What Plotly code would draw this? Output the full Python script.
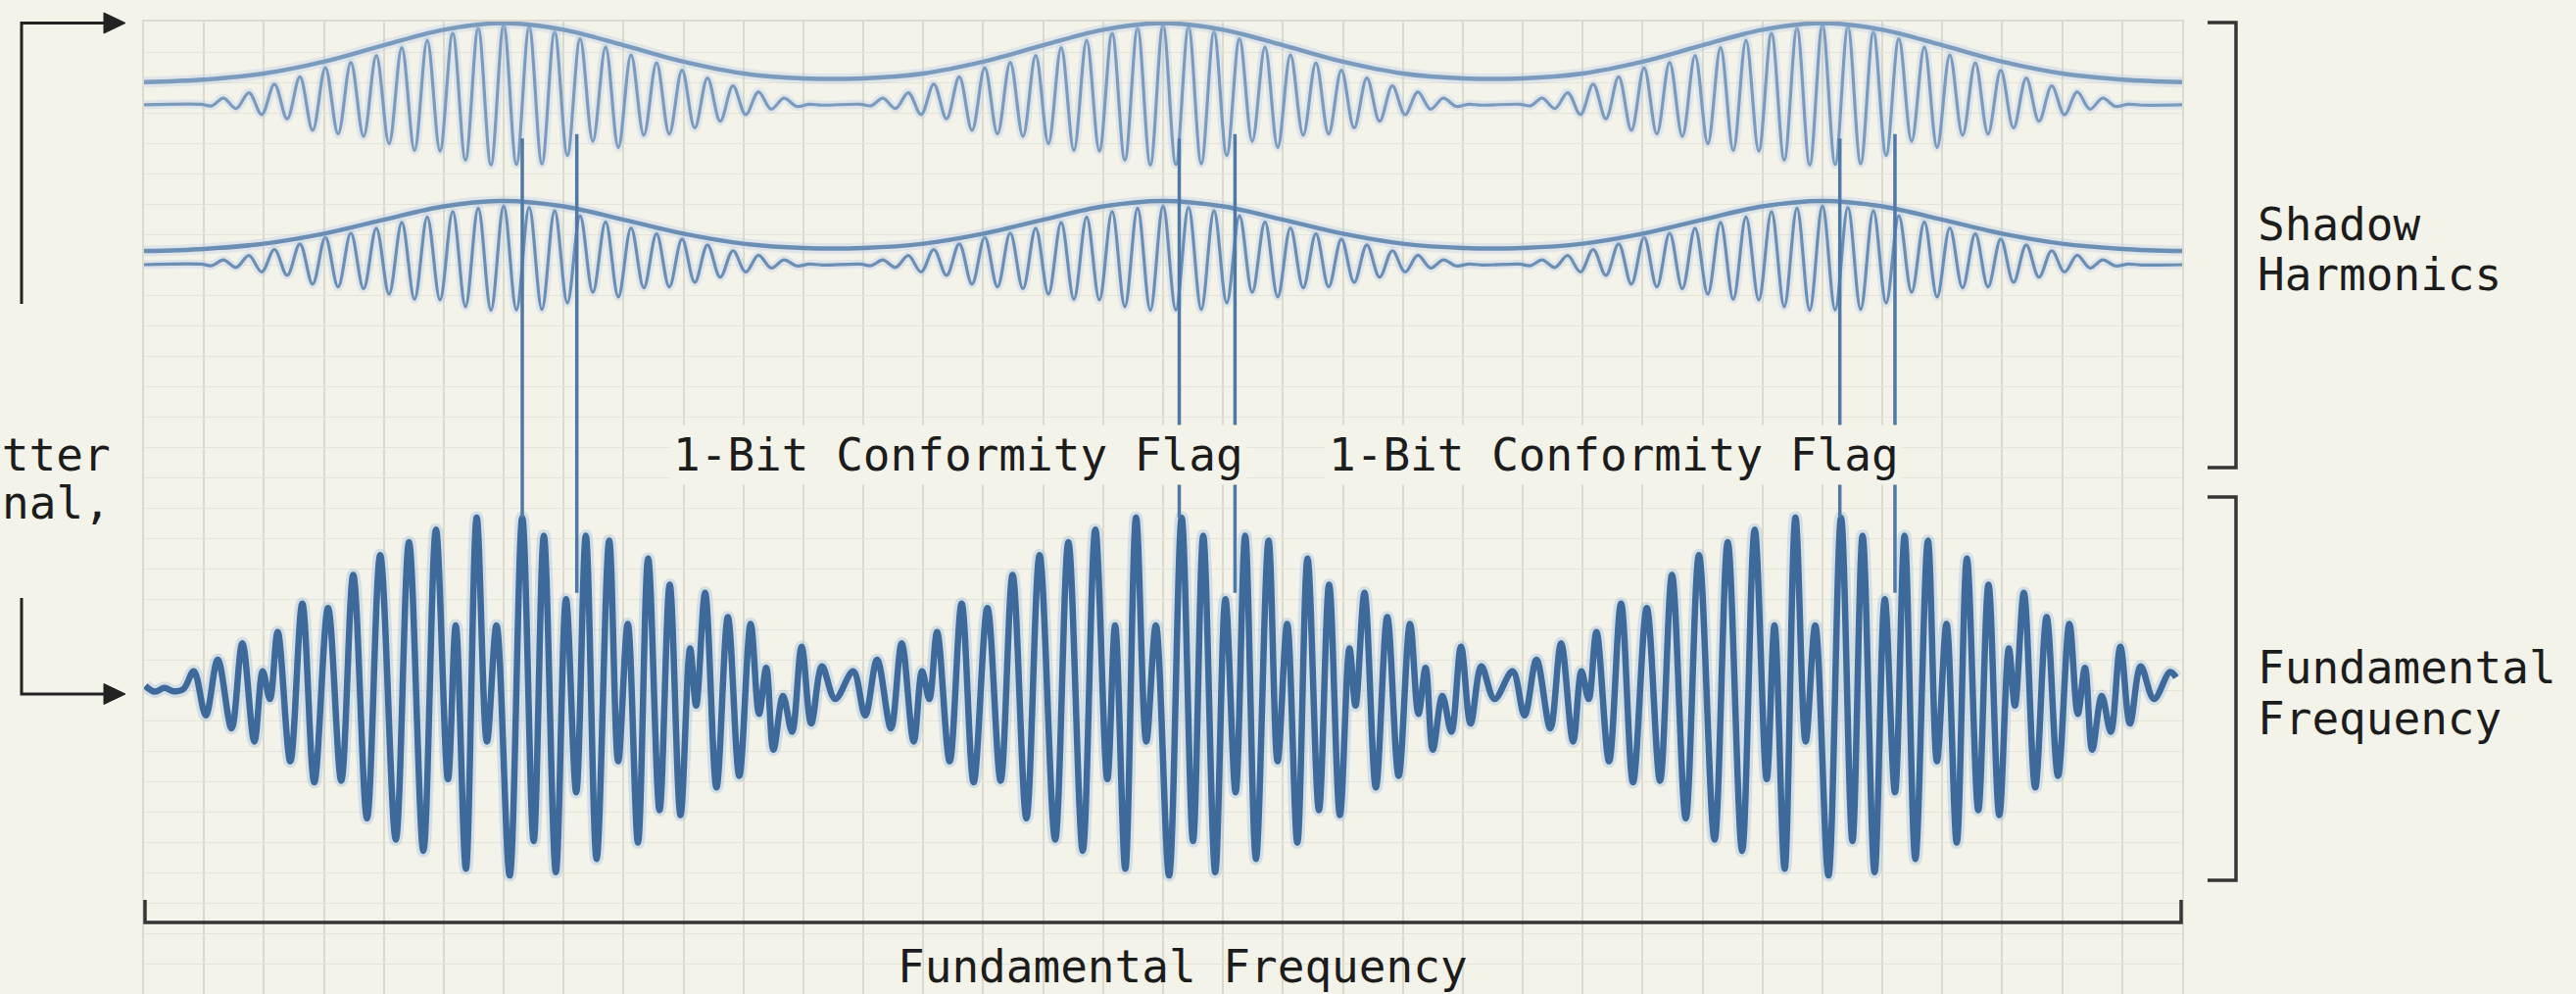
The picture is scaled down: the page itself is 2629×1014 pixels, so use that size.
import plotly.graph_objects as go

# ---------------- data ----------------
GRID_COLUMNS = 34          # time axis, grid units
GRID_ROWS = 32             # amplitude axis, grid units

# Shadow harmonics: three wave packets per row
SHADOW_CENTERS = [6.0, 17.0, 28.0]
SHADOW_PERIOD = 0.425
SHADOW_CENTER_INDEX = 11

ENV_X = list(range(35))
UPPER_ENVELOPE = [30.01, 30.09, 30.29, 30.68, 31.22, 31.73, 31.95, 31.73, 31.22, 30.68,
                  30.29, 30.13, 30.13, 30.29, 30.68, 31.22, 31.73, 31.95, 31.73, 31.22,
                  30.68, 30.29, 30.13, 30.13, 30.29, 30.68, 31.22, 31.73, 31.95, 31.73,
                  31.22, 30.68, 30.29, 30.09, 30.01]
LOWER_ENVELOPE = [24.45, 24.52, 24.69, 25.02, 25.48, 25.92, 26.10, 25.92, 25.48, 25.02,
                  24.69, 24.55, 24.55, 24.69, 25.02, 25.48, 25.92, 26.10, 25.92, 25.48,
                  25.02, 24.69, 24.55, 24.55, 24.69, 25.02, 25.48, 25.92, 26.10, 25.92,
                  25.48, 25.02, 24.69, 24.52, 24.45]

UPPER_CARRIER_BASE = 29.26
LOWER_CARRIER_BASE = 24.0
UPPER_PEAKS = [0.22, 0.40, 0.68, 0.92, 1.22, 1.40, 1.62, 1.88, 2.12, 2.36, 2.52, 2.62,
               2.56, 2.40, 2.18, 1.90, 1.64, 1.38, 1.14, 0.88, 0.62, 0.42, 0.22]
UPPER_TROUGHS = [0.12, 0.32, 0.46, 0.84, 0.96, 1.04, 1.28, 1.50, 1.52, 1.82, 1.98, 1.96,
                 1.94, 1.66, 1.20, 1.40, 1.00, 0.96, 0.76, 0.54, 0.32, 0.14, 0.05]
LOWER_PEAKS = [0.16, 0.30, 0.50, 0.68, 0.90, 1.04, 1.20, 1.39, 1.57, 1.75, 1.86, 1.94,
               1.89, 1.78, 1.61, 1.41, 1.21, 1.02, 0.84, 0.65, 0.46, 0.31, 0.16]
LOWER_TROUGHS = [0.09, 0.24, 0.35, 0.64, 0.73, 0.79, 0.97, 1.14, 1.16, 1.38, 1.50, 1.49,
                 1.47, 1.26, 0.91, 1.06, 0.76, 0.73, 0.58, 0.41, 0.24, 0.11, 0.04]

# Fundamental frequency: extrema of one packet, relative to its centre
FUND_CENTERS = [6.1, 17.1, 28.1]
FUND_BASE = 10.03
FUND_DX = [-5.27, -5.07, -4.87, -4.64, -4.46, -4.26, -4.12, -4.00, -3.87, -3.66,
           -3.46, -3.26, -3.03, -2.81, -2.61, -2.38, -2.16, -1.90, -1.68, -1.44,
           -1.23, -1.03, -0.90, -0.73, -0.55, -0.38, -0.22, 0.00, 0.21, 0.40,
           0.57, 0.77, 0.94, 1.11, 1.27, 1.45, 1.66, 1.81, 1.97, 2.14,
           2.31, 2.50, 2.67, 2.85, 3.01, 3.11, 3.26, 3.45, 3.64, 3.83,
           4.02, 4.16, 4.28, 4.40, 4.56, 4.71, 4.87, 5.03, 5.21, 5.43]
FUND_DY = [0.59, -0.86, 0.97, -1.29, 1.51, -1.72, 0.59, -0.32, 1.88, -2.37,
           2.82, -3.06, 2.67, -3.01, 3.76, -4.25, 4.41, -4.95, 4.84, -5.32,
           5.25, -2.96, 2.10, -5.91, 5.65, -1.72, 2.10, -6.13, 5.65, -5.00,
           5.05, -6.02, 2.96, -3.39, 5.05, -5.59, 4.89, -2.37, 2.15, -5.05,
           4.30, -3.98, 3.44, -4.14, 1.34, -0.54, 3.17, -3.23, 2.37, -2.85,
           2.15, -0.81, 0.70, -1.99, -0.22, -1.40, 1.40, -1.13, 0.75, -0.32]
FUND_LEAD_X = [0.02, 0.18, 0.34, 0.50, 0.66]
FUND_LEAD_Y = [10.14, 9.95, 10.07, 9.96, 10.04]
FUND_TAIL_X = [33.80, 33.90]
FUND_TAIL_Y = [10.60, 10.42]

# 1-bit conformity flag spikes
SPIKE_X = [6.31, 7.22, 17.27, 18.20, 28.29, 29.21]
SPIKE_TOP = [28.15, 28.3, 28.15, 28.3, 28.15, 28.3]
SPIKE_BOTTOM = [15.68, 13.2, 15.68, 13.2, 15.68, 13.2]

# ---------------- layout geometry ----------------
W, H = 2629, 1014
ML, MR, MT, MB = 147, 402, 22, 0
PW, PH = W - ML - MR, H - MT - MB
BG = "#f4f3ea"
FONT = "DejaVu Sans Mono"


def px(x):
    return (x - ML) / PW


def py(y):
    return (H - MB - y) / PH


def shadow_carrier(base, peaks, troughs):
    P = SHADOW_PERIOD
    xs, ys = [0.0], [base]
    for c in SHADOW_CENTERS:
        start = c - SHADOW_CENTER_INDEX * P
        xs += [start - 0.9 * P, start - 0.45 * P]
        ys += [base + 0.02, base - 0.03]
        for i, pk in enumerate(peaks):
            xs.append(start + i * P)
            ys.append(base + pk)
            xs.append(start + i * P + P / 2)
            ys.append(base - troughs[i])
        end = start + (len(peaks) - 1) * P
        xs += [end + P, end + 1.5 * P]
        ys += [base + 0.02, base - 0.01]
    xs.append(GRID_COLUMNS)
    ys.append(base)
    return xs, ys


def fundamental():
    xs, ys = list(FUND_LEAD_X), list(FUND_LEAD_Y)
    for c in FUND_CENTERS:
        for dx, dy in zip(FUND_DX, FUND_DY):
            xs.append(c + dx)
            ys.append(FUND_BASE + dy)
    xs += FUND_TAIL_X
    ys += FUND_TAIL_Y
    return xs, ys


fig = go.Figure()

rows = [
    (UPPER_ENVELOPE, UPPER_CARRIER_BASE, UPPER_PEAKS, UPPER_TROUGHS, "#7b9bbe"),
    (LOWER_ENVELOPE, LOWER_CARRIER_BASE, LOWER_PEAKS, LOWER_TROUGHS, "#6b8eb5"),
]
for env, base, pk, tr, col in rows:
    cx, cy = shadow_carrier(base, pk, tr)
    for width, color in [(9, "rgba(175,200,228,0.3)"), (3.2, col)]:
        fig.add_trace(go.Scatter(x=cx, y=cy, mode="lines",
                                 line=dict(color=color, width=width, shape="spline", smoothing=1.0),
                                 hoverinfo="skip", showlegend=False))
    for width, color in [(11, "rgba(175,200,228,0.3)"), (4.5, col)]:
        fig.add_trace(go.Scatter(x=ENV_X, y=env, mode="lines",
                                 line=dict(color=color, width=width, shape="spline", smoothing=1.0),
                                 hoverinfo="skip", showlegend=False))

fx, fy = fundamental()
fig.add_trace(go.Scatter(x=fx, y=fy, mode="lines",
                         line=dict(color="rgba(150,185,222,0.35)", width=13, shape="spline", smoothing=1.0),
                         hoverinfo="skip", showlegend=False))
fig.add_trace(go.Scatter(x=fx, y=fy, mode="lines",
                         line=dict(color="#3d6a9a", width=6.5, shape="spline", smoothing=1.0),
                         hoverinfo="skip", showlegend=False))

sx, sy = [], []
for x, t, b in zip(SPIKE_X, SPIKE_TOP, SPIKE_BOTTOM):
    sx += [x, x, None]
    sy += [t, b, None]
fig.add_trace(go.Scatter(x=sx, y=sy, mode="lines",
                         line=dict(color="#4e79a6", width=3.5),
                         hoverinfo="skip", showlegend=False))

# ---------------- annotations ----------------
def label(text, x, y, xanchor="left", bg=None):
    fig.add_annotation(text=text, x=px(x), y=py(y), xref="paper", yref="paper",
                       xanchor=xanchor, yanchor="middle", showarrow=False,
                       font=dict(family=FONT, size=46, color="#1c1c1c"),
                       bgcolor=bg, borderpad=3)

label("Shadow", 2300, 229)
label("Harmonics", 2300, 280)
label("Fundamental", 2300, 681)
label("Frequency", 2300, 733)
label("Transmitter", 117, 464, xanchor="right")
label("Signal,", 117, 513, xanchor="right")
label("1-Bit Conformity Flag", 978, 464, xanchor="center", bg=BG)
label("1-Bit Conformity Flag", 1647, 464, xanchor="center", bg=BG)
label("Fundamental Frequency", 1207, 986, xanchor="center")


def path(points, close=False):
    s = "M " + " L ".join(f"{px(a):.5f},{py(b):.5f}" for a, b in points)
    return s + (" Z" if close else "")


line_dark = dict(color="#353535", width=3.5)
shapes = [
    dict(type="path", path=path([(2253, 23), (2282, 23), (2282, 477), (2253, 477)]), line=line_dark),
    dict(type="path", path=path([(2253, 507), (2282, 507), (2282, 898), (2253, 898)]), line=line_dark),
    dict(type="path", path=path([(148, 918), (148, 941), (2226, 941), (2226, 918)]), line=line_dark),
    dict(type="path", path=path([(22, 310), (22, 23.5), (110, 23.5)]), line=dict(color="#222", width=3)),
    dict(type="path", path=path([(128, 23.5), (106, 13), (106, 34)], close=True),
         line=dict(color="#222", width=1), fillcolor="#222"),
    dict(type="path", path=path([(22, 610), (22, 708), (110, 708)]), line=dict(color="#222", width=3)),
    dict(type="path", path=path([(128, 708), (106, 697.5), (106, 718.5)], close=True),
         line=dict(color="#222", width=1), fillcolor="#222"),
]
for s in shapes:
    s.update(xref="paper", yref="paper")
    fig.add_shape(**s)

fig.update_layout(
    width=W, height=H,
    margin=dict(l=ML, r=MR, t=MT, b=MB, pad=0),
    paper_bgcolor=BG, plot_bgcolor=BG,
    showlegend=False,
    xaxis=dict(range=[0, GRID_COLUMNS], dtick=1, tick0=0, showgrid=True,
               gridcolor="#dadacf", gridwidth=1.5, zeroline=False, showticklabels=False,
               ticks="", showline=True, linecolor="#dadacf", linewidth=1.5, mirror=True,
               fixedrange=True),
    yaxis=dict(range=[0, GRID_ROWS], dtick=1, tick0=0, showgrid=True,
               gridcolor="#e5e4d9", gridwidth=1.2, zeroline=False, showticklabels=False,
               ticks="", showline=True, linecolor="#dadacf", linewidth=1.5, mirror=True,
               fixedrange=True),
)

fig.write_html("out.html", config={"displayModeBar": False},
               post_script="document.body.style.margin='0';document.body.style.overflow='hidden';")
